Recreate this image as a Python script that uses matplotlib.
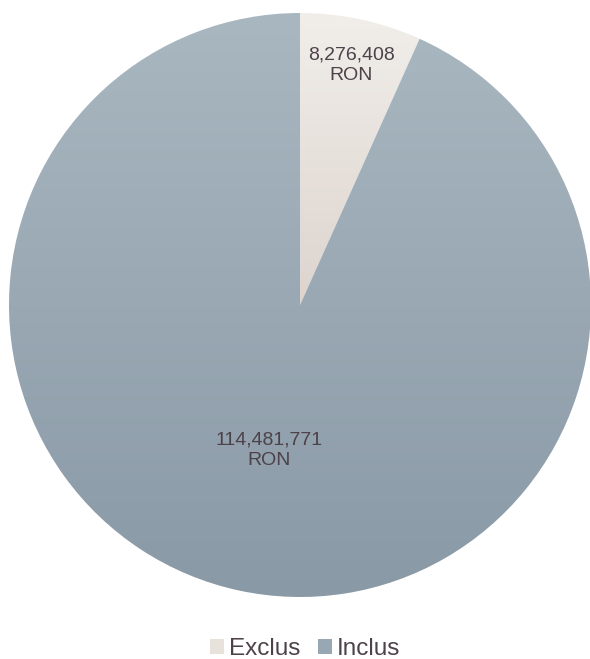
import matplotlib.pyplot as plt
import numpy as np
from matplotlib.colors import LinearSegmentedColormap
from matplotlib.patches import Patch

plt.rcParams["font.family"] = ["Liberation Sans", "DejaVu Sans"]

categories = ["Exclus", "Inclus"]
values = [8276408, 114481771]
top_colors = ["#f1eeea", "#a9b7c0"]
bottom_colors = ["#ddd4ce", "#8999a6"]
label_dist = [0.84, 0.51]
text_color = "#4d4249"

fig = plt.figure(figsize=(5.9, 6.59), dpi=100)
ax = fig.add_axes([9 / 590, 62 / 659, 582 / 590, 584 / 659])

wedges, _ = ax.pie(values, startangle=90, counterclock=False, radius=1,
                   wedgeprops=dict(linewidth=0))
ax.axis("off")

# vertical gradient fill for each slice, clipped to the wedge shape
for w, c_top, c_bot in zip(wedges, top_colors, bottom_colors):
    w.set_facecolor("none")
    verts = w.get_path().vertices
    ext = w.get_patch_transform().transform(verts)
    y0, y1 = ext[:, 1].min(), ext[:, 1].max()
    cmap = LinearSegmentedColormap.from_list("g", [c_bot, c_top])
    grad = np.linspace(0, 1, 256).reshape(-1, 1)
    im = ax.imshow(grad, cmap=cmap, origin="lower", aspect="auto",
                   extent=[-1, 1, y0, y1], zorder=1)
    im.set_clip_path(w)

ax.set_xlim(-1, 1)
ax.set_ylim(-1, 1)

total = sum(values)
start = 90.0
for v, d in zip(values, label_dist):
    sweep = v / total * 360
    mid = np.deg2rad(start - sweep / 2)
    start -= sweep
    ax.text(d * np.cos(mid), d * np.sin(mid), f"{v:,}\nRON",
            ha="center", va="center", fontsize=14, color=text_color,
            linespacing=1.25, zorder=3)

handles = [Patch(facecolor=c, edgecolor="none")
           for c in ["#e8e2dd", "#97a7b3"]]
fig.legend(handles, categories, loc="lower center", ncol=2, frameon=False,
           bbox_to_anchor=(0.517, -0.035), fontsize=17.5, handlelength=0.6,
           handleheight=0.6, handletextpad=0.2, columnspacing=0.7,
           labelcolor=text_color)

fig.savefig("out.png", dpi=100)
